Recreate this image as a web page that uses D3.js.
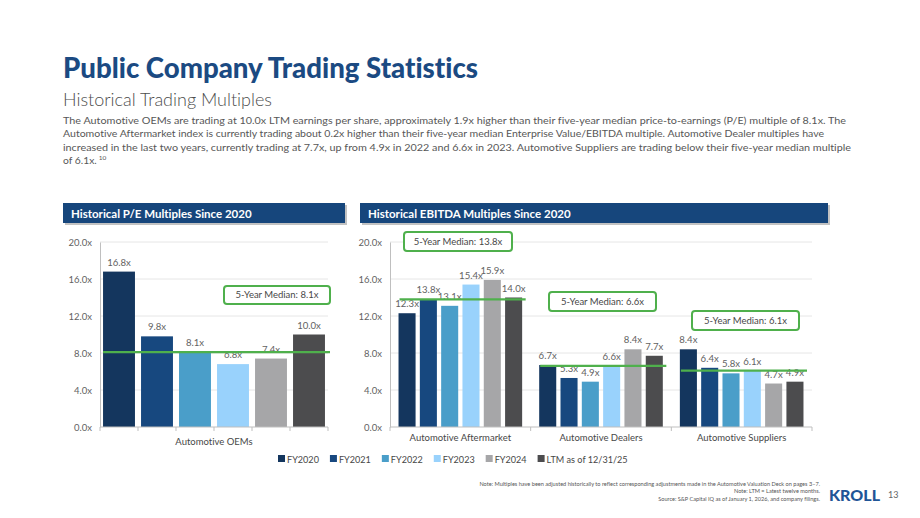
<!DOCTYPE html>
<html>
<head>
<meta charset="utf-8">
<script src="https://cdn.jsdelivr.net/npm/d3@7"></script>
<style>
  body { margin: 0; background: #fff; }
  svg { display: block; font-family: Lato, 'Open Sans', sans-serif; font-variant-ligatures: none; }
</style>
</head>
<body>
<svg width="920" height="518"></svg>
<script>
// ---- data ----
const series = ['FY2020', 'FY2021', 'FY2022', 'FY2023', 'FY2024', 'LTM as of 12/31/25']
const colors = ['#14365e', '#17487f', '#4a9ec9', '#99d2fc', '#a6a6a8', '#4c4c4e']

const peCategories = ['Automotive OEMs']
const peValues = [[16.8, 9.8, 8.1, 6.8, 7.4, 10.0]]
const peMedians = [8.1]

const evCategories = ['Automotive Aftermarket', 'Automotive Dealers', 'Automotive Suppliers']
const evValues = [
  [12.3, 13.8, 13.1, 15.4, 15.9, 14.0],
  [6.7, 5.3, 4.9, 6.6, 8.4, 7.7],
  [8.4, 6.4, 5.8, 6.1, 4.7, 4.9]
]
const evMedians = [13.8, 6.6, 6.1]

const yTicks = [0, 4, 8, 12, 16, 20]

const paragraph = [
  'The Automotive OEMs are trading at 10.0x LTM earnings per share, approximately 1.9x higher than their five-year median price-to-earnings (P/E) multiple of 8.1x. The',
  'Automotive Aftermarket index is currently trading about 0.2x higher than their five-year median Enterprise Value/EBITDA multiple. Automotive Dealer multiples have',
  'increased in the last two years, currently trading at 7.7x, up from 4.9x in 2022 and 6.6x in 2023. Automotive Suppliers are trading below their five-year median multiple',
  'of 6.1x.'
]
const notes = [
  'Note: Multiples have been adjusted historically to reflect corresponding adjustments made in the Automotive Valuation Deck on pages 3\u20137.',
  'Note: LTM = Latest twelve months.',
  'Source: S&P Capital IQ as of January 1, 2026, and company filings.'
]

const svg = d3.select('svg')
const navy = '#1b4a82'
const green = '#4fb04c'
const textGray = '#626262'

// ---- titles ----
svg.append('text').attr('x', 63).attr('y', 78)
  .attr('font-size', 29).attr('font-weight', 900).attr('fill', navy)
  .attr('textLength', 415).attr('lengthAdjust', 'spacingAndGlyphs')
  .text('Public Company Trading Statistics')

svg.append('text').attr('x', 63).attr('y', 106)
  .attr('font-size', 17).attr('font-weight', 300).attr('fill', '#4d4d4d')
  .attr('textLength', 209).attr('lengthAdjust', 'spacingAndGlyphs')
  .text('Historical Trading Multiples')

const lineEnds = [846, 824, 851, null]
paragraph.forEach((line, i) => {
  const t = svg.append('text').attr('x', 63).attr('y', 124 + i * 13.3)
    .attr('font-size', 10.3).attr('fill', '#575757').text(line)
  if (lineEnds[i]) t.attr('textLength', lineEnds[i] - 63).attr('lengthAdjust', 'spacingAndGlyphs')
  if (i === paragraph.length - 1) {
    const w = t.node().getComputedTextLength()
    svg.append('text').attr('x', 63 + w + 2).attr('y', 124 + i * 13.3 - 4)
      .attr('font-size', 6.5).attr('fill', '#575757').text('10')
  }
})

// ---- section headers ----
const header = (x, w, label) => {
  svg.append('rect').attr('x', x + 2).attr('y', 205).attr('width', w).attr('height', 20)
    .attr('fill', '#9a9a9a').attr('opacity', 0.6)
  svg.append('rect').attr('x', x).attr('y', 203).attr('width', w).attr('height', 20)
    .attr('fill', '#16467c')
  svg.append('text').attr('x', x + 8).attr('y', 217.5)
    .attr('font-size', 11.5).attr('font-weight', 700).attr('fill', '#fff').text(label)
}
header(63, 282, 'Historical P/E Multiples Since 2020')
header(360, 468, 'Historical EBITDA Multiples Since 2020')

// ---- chart helper ----
const drawChart = (cfg) => {
  const { categories, values, medians, x0, x1, boxes, catY, medianPad } = cfg
  const y = d3.scaleLinear().domain([0, 20]).range([427, 242])
  const g = svg.append('g')
  const [left, right] = x0.range()

  // gridlines
  g.selectAll('.grid').data(yTicks.filter(d => d > 0)).enter().append('line')
    .attr('x1', left).attr('x2', right)
    .attr('y1', d => y(d)).attr('y2', d => y(d))
    .attr('stroke', '#e6e6e6').attr('stroke-width', 1)

  // y axis
  const yAxis = d3.axisLeft(y).tickValues(yTicks).tickFormat(d => d.toFixed(1) + 'x').tickSize(0).tickPadding(8)
  const ya = g.append('g').attr('transform', `translate(${left},0)`).call(yAxis)
  ya.select('.domain').attr('stroke', '#bfbfbf')
  ya.selectAll('text').attr('font-size', 9.5).attr('fill', textGray).attr('font-family', 'Lato, sans-serif')

  // bars
  categories.forEach((cat, ci) => {
    const bx = x0(cat)
    const cg = g.append('g').attr('transform', `translate(${bx},0)`)
    cg.selectAll('rect').data(values[ci]).enter().append('rect')
      .attr('x', (d, i) => x1(series[i]))
      .attr('y', d => y(d))
      .attr('width', x1.bandwidth())
      .attr('height', d => y(0) - y(d))
      .attr('fill', (d, i) => colors[i])
    cg.selectAll('text.val').data(values[ci]).enter().append('text')
      .attr('class', 'val')
      .attr('x', (d, i) => x1(series[i]) + x1.bandwidth() / 2)
      .attr('y', d => y(d) - 6)
      .attr('text-anchor', 'middle')
      .attr('font-size', 9.6).attr('fill', textGray)
      .text(d => d.toFixed(1) + 'x')
    // median line
    const first = x1(series[0])
    cg.append('line')
      .attr('x1', first + medianPad[0]).attr('x2', x0.bandwidth() + medianPad[1])
      .attr('y1', y(medians[ci])).attr('y2', y(medians[ci]))
      .attr('stroke', green).attr('stroke-width', 2.3)
    // category label
    g.append('text').attr('x', bx + x0.bandwidth() / 2).attr('y', catY)
      .attr('text-anchor', 'middle').attr('font-size', 9.5).attr('fill', '#474747')
      .text(cat)
  })

  // x axis with ticks at bar boundaries
  g.append('line').attr('x1', left).attr('x2', right).attr('y1', y(0)).attr('y2', y(0))
    .attr('stroke', '#bfbfbf')
  g.selectAll('.xt').data(cfg.tickXs).enter().append('line')
    .attr('x1', d => d).attr('x2', d => d).attr('y1', y(0)).attr('y2', y(0) + 4)
    .attr('stroke', '#bfbfbf')

  // median call-outs
  boxes.forEach((b, i) => {
    g.append('rect').attr('x', b[0]).attr('y', b[1]).attr('width', b[2]).attr('height', b[3])
      .attr('rx', 3).attr('fill', '#fff').attr('stroke', green).attr('stroke-width', 2)
    g.append('text').attr('x', b[0] + b[2] / 2).attr('y', b[1] + b[3] / 2 + 3.3)
      .attr('text-anchor', 'middle').attr('font-size', 9.5).attr('fill', '#474747')
      .text(`5-Year Median: ${medians[i].toFixed(1)}x`)
  })
}

// left chart: P/E
const peX0 = d3.scaleBand().domain(peCategories).range([100, 328]).padding(0)
const peX1 = d3.scaleBand().domain(series).range([0, peX0.bandwidth()]).paddingInner(0.16).paddingOuter(0.08)
drawChart({
  categories: peCategories, values: peValues, medians: peMedians,
  x0: peX0, x1: peX1, catY: 445, medianPad: [0, 2],
  tickXs: d3.range(7).map(i => 100 + i * peX0.bandwidth() / 6),
  boxes: [[224, 286, 106, 18]]
})

// right chart: EV/EBITDA
const evX0 = d3.scaleBand().domain(evCategories).range([390, 812]).padding(0)
const evX1 = d3.scaleBand().domain(series).range([0, evX0.bandwidth()]).paddingInner(0.2).paddingOuter(0.4)
drawChart({
  categories: evCategories, values: evValues, medians: evMedians,
  x0: evX0, x1: evX1, catY: 441, medianPad: [1, -5],
  tickXs: d3.range(4).map(i => evX0.range()[0] + i * evX0.bandwidth()),
  boxes: [[404, 232, 108, 19], [549, 292, 107, 19], [692, 311, 107, 19]]
})

// ---- legend ----
const legend = svg.append('g').attr('transform', 'translate(278,459)')
let lx = 0
series.forEach((s, i) => {
  const item = legend.append('g').attr('transform', `translate(${lx},0)`)
  item.append('rect').attr('x', 0).attr('y', -4).attr('width', 7).attr('height', 7).attr('fill', colors[i])
  const t = item.append('text').attr('x', 9).attr('y', 3.5).attr('font-size', 9.1).attr('fill', '#474747').text(s)
  lx += 9 + t.node().getComputedTextLength() + 11
})

// ---- footnotes ----
notes.forEach((n, i) => {
  svg.append('text').attr('x', 820).attr('y', 486 + i * 7.4).attr('text-anchor', 'end')
    .attr('font-size', 5.6).attr('fill', '#555').text(n)
})
svg.append('text').attr('x', 829).attr('y', 501).attr('font-size', 15.5).attr('font-weight', 900)
  .attr('fill', '#1f5597').attr('textLength', 51).attr('lengthAdjust', 'spacingAndGlyphs').text('KROLL')
svg.append('text').attr('x', 888).attr('y', 498).attr('font-size', 9).attr('fill', '#666').text('13')
</script>
</body>
</html>
